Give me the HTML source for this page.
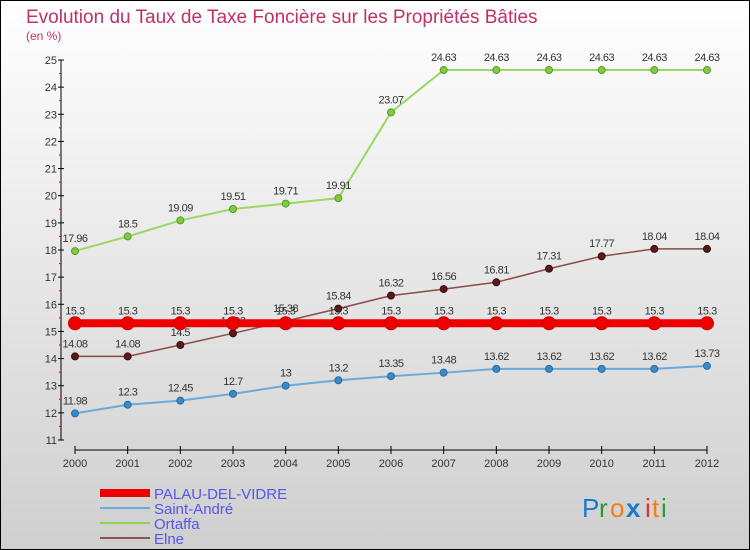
<!DOCTYPE html>
<html><head><meta charset="utf-8"><style>
body{margin:0}
#c{width:750px;height:550px;position:relative;overflow:hidden}
svg text{font-family:"Liberation Sans",sans-serif}
</style></head><body>
<div id="c">
<svg id="s" width="750" height="550" xmlns="http://www.w3.org/2000/svg">
<defs><linearGradient id="bg" x1="0" y1="0" x2="0" y2="1"><stop offset="0" stop-color="#ffffff"/><stop offset="1" stop-color="#cfcfcf"/></linearGradient></defs>
<rect x="0.5" y="0.5" width="749" height="549" fill="url(#bg)" stroke="#000"/>
<text x="26" y="23" font-size="19" fill="#c0306a">Evolution du Taux de Taxe Foncière sur les Propriétés Bâties</text>
<text x="26" y="40" font-size="12" fill="#c0306a">(en %)</text>
<g id="axes"></g><g id="series"></g>
<g>
<rect x="100" y="489" width="50" height="8" fill="#e00"/>
<text x="154" y="499" font-size="15" fill="#5555ee">PALAU-DEL-VIDRE</text>
<line x1="100" y1="508" x2="150" y2="508" stroke="#6aaad8" stroke-width="2"/>
<text x="154" y="514" font-size="15" fill="#5555ee">Saint-André</text>
<line x1="100" y1="523" x2="150" y2="523" stroke="#8ed44f" stroke-width="2"/>
<text x="154" y="529" font-size="15" fill="#5555ee">Ortaffa</text>
<line x1="100" y1="538" x2="150" y2="538" stroke="#8a5555" stroke-width="2"/>
<text x="154" y="544" font-size="15" fill="#5555ee">Elne</text>
</g>
<g font-size="26">
<text x="582" y="517" fill="#1a7ad0">P</text><text x="599" y="517" fill="#2a9a2a">r</text><text x="610" y="517" fill="#f08010">o</text><text x="626" y="517" fill="#1a7ad0" font-weight="bold">x</text><text x="645" y="517" fill="#e03030">i</text><text x="652" y="517" fill="#f08010">t</text><text x="661" y="517" fill="#2a9a2a">i</text>
</g>
</svg></div>
<script>
const years=[2000,2001,2002,2003,2004,2005,2006,2007,2008,2009,2010,2011,2012];
const palau=[15.3,15.3,15.3,15.3,15.3,15.3,15.3,15.3,15.3,15.3,15.3,15.3,15.3];
const saintAndre=[11.98,12.3,12.45,12.7,13,13.2,13.35,13.48,13.62,13.62,13.62,13.62,13.73];
const ortaffa=[17.96,18.5,19.09,19.51,19.71,19.91,23.07,24.63,24.63,24.63,24.63,24.63,24.63];
const elne=[14.08,14.08,14.5,14.93,15.38,15.84,16.32,16.56,16.81,17.31,17.77,18.04,18.04];
const yTicks=[11,12,13,14,15,16,17,18,19,20,21,22,23,24,25];
const NS="http://www.w3.org/2000/svg";
const X=i=>75+i*(707-75)/(years.length-1);
const Y=v=>440-(v-11)*(380/14);
function mk(t,a,p){const e=document.createElementNS(NS,t);for(const k in a)e.setAttribute(k,a[k]);p.appendChild(e);return e;}
const ax=document.getElementById('axes'),sg=document.getElementById('series');
let e=mk('line',{x1:61,y1:60,x2:61,y2:440,stroke:'#000','stroke-width':1},ax);


e=mk('line',{x1:75,y1:450,x2:707,y2:450,stroke:'#000','stroke-width':1},ax);


yTicks.forEach(v=>{
 mk('line',{x1:58,y1:Y(v),x2:64,y2:Y(v),stroke:'#000'},ax);
 if(v<25)mk('line',{x1:59,y1:Y(v+0.5),x2:61,y2:Y(v+0.5),stroke:'#e00'},ax);
 const t=mk('text',{x:57,y:Y(v)+4,'font-size':11,fill:'#333','text-anchor':'end'},ax);t.textContent=v;
 
 
});
years.forEach((y,i)=>{
 mk('line',{x1:X(i),y1:446,x2:X(i),y2:454,stroke:'#000'},ax);
 const t=mk('text',{x:X(i),y:467,'font-size':11,fill:'#333','text-anchor':'middle'},ax);t.textContent=y;
 
 
});
function series(vals,name,line,lw,pt,ps,pr){
 const g=mk('g',{},sg);
 
 
 mk('polyline',{points:vals.map((v,i)=>X(i)+','+Y(v)).join(' '),fill:'none',stroke:line,'stroke-width':lw},g);
 vals.forEach((v,i)=>{
  const c=mk('circle',{cx:X(i),cy:Y(v),r:pr,fill:pt,stroke:ps,'stroke-width':1},g);
  
  
  const t=mk('text',{x:X(i),y:Y(v)-9,'font-size':11,fill:'#333','text-anchor':'middle','letter-spacing':'-0.5'},g);t.textContent=v;
  
  
 });
}
series(ortaffa,'ortaffa','#9ad860',2,'#80cc40','#5a9a2a',3.5);
series(elne,'elne','#8a4a4a',1.5,'#5a1a1a','#3a0a0a',3.5);
series(saintAndre,'saint-andre','#6aaad8',2,'#3a8ac8','#2a6aa0',3.5);
series(palau,'palau-del-vidre','#e00',8,'#e00','#c00',6.5);
</script>
</body></html>
